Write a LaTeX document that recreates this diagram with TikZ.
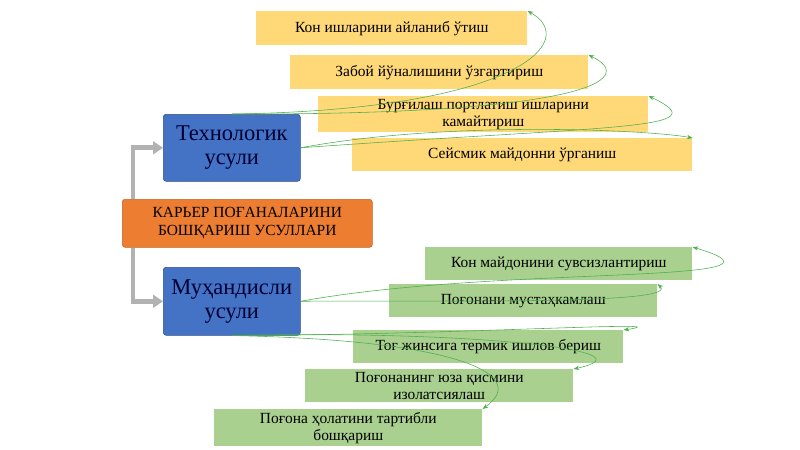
\documentclass[tikz,border=0pt]{standalone}
\usepackage{fontspec}
\setmainfont{Liberation Serif}
\usetikzlibrary{arrows.meta}

\definecolor{methodblue}{RGB}{68,114,196}
\definecolor{itemyellow}{RGB}{255,217,120}
\definecolor{itemgreen}{RGB}{169,208,142}
\definecolor{mainorange}{RGB}{237,125,49}

\tikzset{
  box/.style={shape=rectangle,anchor=north west,inner sep=2pt,align=center},
  item/.style={box,fill=#1,text=black,font=\fontsize{11}{12}\selectfont},
  method/.style={box,draw=methodblue!70!black,fill=methodblue,rounded corners=2pt,
     text=blue!20!black,font=\fontsize{16}{17}\selectfont},
  link/.style={-{Stealth[length=4pt]},draw=green!55!black!70,thin},
  branch/.style={-{Triangle[length=7pt,width=9pt]},draw=gray!60,line width=3.5pt}
}

\begin{document}
\begin{tikzpicture}[x=0.025cm,y=-0.025cm]
\useasboundingbox (0,0) rectangle (800,449);

% methods
\node [method,minimum width=137*0.025cm,minimum height=67*0.025cm] (tech) at (163,114)
  {Технологик\\усули};
\node [method,minimum width=137*0.025cm,minimum height=68*0.025cm] (muh) at (163,267)
  {Муҳандисли\\усули};
\node [box,fill=mainorange,draw=mainorange!80!black,rounded corners=2pt,
       minimum width=250*0.025cm,minimum height=48*0.025cm,
       font=\fontsize{11}{13}\selectfont] (main) at (122,199)
  {КАРЬЕР ПОҒАНАЛАРИНИ\\БОШҚАРИШ УСУЛЛАРИ};

% technological items
\node [item=itemyellow,minimum width=271*0.025cm,minimum height=34*0.025cm] (y1) at (256,11)
  {Кон ишларини айланиб ўтиш};
\node [item=itemyellow,minimum width=298*0.025cm,minimum height=34*0.025cm] (y2) at (290,55)
  {Забой йўналишини ўзгартириш};
\node [item=itemyellow,minimum width=330*0.025cm,minimum height=34*0.025cm] (y3) at (318,96)
  {Бурғилаш портлатиш  ишларини\\камайтириш};
\node [item=itemyellow,minimum width=340*0.025cm,minimum height=33*0.025cm] (y4) at (352,138)
  {Сейсмик майдонни ўрганиш};

% engineering items
\node [item=itemgreen,minimum width=267*0.025cm,minimum height=33*0.025cm] (g1) at (425,247)
  {Кон майдонини сувсизлантириш};
\node [item=itemgreen,minimum width=268*0.025cm,minimum height=33*0.025cm] (g2) at (389,284)
  {Поғонани мустаҳкамлаш};
\node [item=itemgreen,minimum width=270*0.025cm,minimum height=33*0.025cm] (g3) at (353,330)
  {Тоғ жинсига термик ишлов бериш};
\node [item=itemgreen,minimum width=268*0.025cm,minimum height=33*0.025cm] (g4) at (305,369)
  {Поғонанинг юза қисмини\\изолатсиялаш};
\node [item=itemgreen,minimum width=268*0.025cm,minimum height=34*0.025cm] (g5) at (214,409)
  {Поғона ҳолатини тартибли\\бошқариш};

% branches
\draw [branch] ([xshift=11*0.025cm]main.north west) |- (tech.west);
\draw [branch] ([xshift=11*0.025cm]main.south west) |- (muh.west);

% links of technological method
\draw [link] (tech.north) .. controls (520,110) and (580,40) .. (y1.north east);
\draw [link] (tech.north) .. controls (580,115) and (640,80) .. (y2.north east);
\draw [link] (tech.east) .. controls (620,125) and (720,130) .. (y3.north east);
\draw [link] (tech.east) .. controls (450,120) and (650,130) .. (y4.north east);

% links of engineering method
\draw [link] (muh.east) .. controls (500,265) and (820,285) .. (g1.north east);
\draw [link] (muh.east) .. controls (450,300) and (680,305) .. (g2.north east);
\draw [link] (muh.south) .. controls (450,335) and (690,320) .. (g3.north east);
\draw [link] (muh.south) .. controls (460,330) and (660,350) .. (g4.north east);
\draw [link] (muh.south) .. controls (460,340) and (530,375) .. (g5.north east);
\end{tikzpicture}
\end{document}
